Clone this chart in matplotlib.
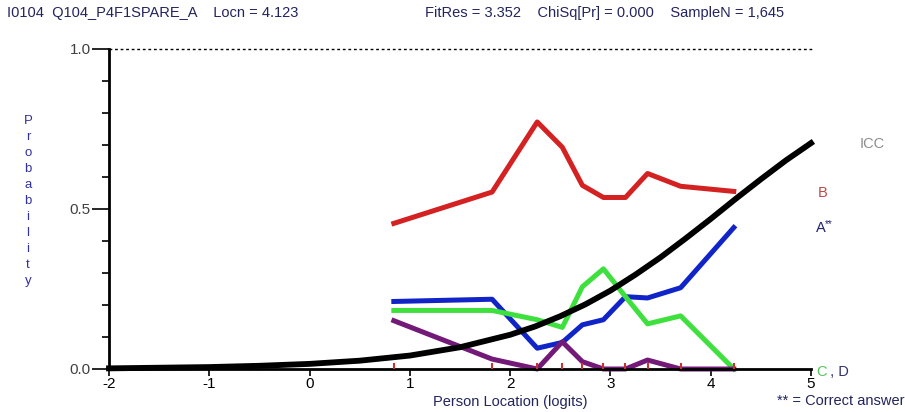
import matplotlib
matplotlib.use('Agg')
import matplotlib.pyplot as plt
from matplotlib import font_manager
from matplotlib.ticker import MultipleLocator, FixedLocator

names = {f.name for f in font_manager.fontManager.ttflist}
narrow = 'Liberation Sans Narrow' if 'Liberation Sans Narrow' in names else 'Liberation Sans'
plt.rcParams['font.family'] = [narrow, 'DejaVu Sans']

# class interval means (person location, logits)
class_locs = [0.84, 1.82, 2.27, 2.52, 2.72, 2.93, 3.15, 3.37, 3.70, 4.23]
# observed proportions choosing each distractor
prop_A = [0.211, 0.218, 0.065, 0.083, 0.138, 0.154, 0.226, 0.222, 0.254, 0.442]
prop_B = [0.455, 0.553, 0.772, 0.693, 0.574, 0.536, 0.536, 0.611, 0.571, 0.555]
prop_C = [0.183, 0.183, 0.154, 0.130, 0.257, 0.313, 0.226, 0.141, 0.166, 0.0]
prop_D = [0.151, 0.031, 0.0, 0.085, 0.023, 0.0, 0.0, 0.028, 0.0, 0.0]

# item characteristic curve
icc_x = [-2, -1.5, -1, -0.5, 0, 0.5, 1, 1.5, 2, 2.25, 2.5, 2.75, 3, 3.25, 3.5, 3.75, 4, 4.25, 4.5, 4.75, 5]
icc_p = [0.002, 0.004, 0.006, 0.010, 0.016, 0.026, 0.042, 0.068, 0.107, 0.133, 0.165, 0.202, 0.245,
         0.295, 0.349, 0.408, 0.469, 0.532, 0.593, 0.652, 0.706]

W, H = 905, 412
fig = plt.figure(figsize=(W / 100, H / 100), dpi=100)
ax = fig.add_axes([109 / W, 43 / H, 702 / W, 320 / H])
ax.set_xlim(-2, 5)
ax.set_ylim(0, 1)

lw = 3.6
ax.plot(class_locs, prop_B, color='#d42121', lw=lw, clip_on=False)
ax.plot(class_locs, prop_A, color='#1024c8', lw=lw, clip_on=False)
ax.plot(class_locs, prop_C, color='#3ee03e', lw=lw, clip_on=False)
ax.plot(class_locs, prop_D, color='#731a78', lw=lw, clip_on=False)
ax.plot(icc_x, icc_p, color='black', lw=4.2, clip_on=False, zorder=4)
ax.vlines(class_locs, 0, 0.018, color='#cc3030', lw=1.5, zorder=5)

# dotted line at 1.0
ax.plot([-2, 5.03], [1, 1], color='black', lw=1, ls=(0, (2, 2)), clip_on=False)

for s in ['top', 'right']:
    ax.spines[s].set_visible(False)
ax.spines['left'].set_linewidth(2)
ax.spines['bottom'].set_linewidth(2)

ax.yaxis.set_major_locator(FixedLocator([0, 0.5, 1.0]))
ax.set_yticklabels(['0.0', '0.5', '1.0'])
ax.yaxis.set_minor_locator(MultipleLocator(0.1))
ax.tick_params(axis='y', which='major', length=12, width=1.2, labelsize=11, labelcolor='#404040', pad=1)
ax.tick_params(axis='y', which='minor', length=5, width=1.2)

ax.set_xticks(range(-2, 6))
ax.set_xticklabels(['-2', '-1', '0', '1', '2', '3', '4', '5'])
ax.xaxis.set_minor_locator(FixedLocator([5]))
ax.tick_params(axis='x', which='major', length=5, width=1.2, labelsize=11, pad=1)
ax.tick_params(axis='x', which='minor', direction='in', length=5, width=1.2)

navy = '#22245e'
fig.text(7 / W, 1 - 13 / H, 'I0104  Q104_P4F1SPARE_A    Locn = 4.123', color=navy,
         fontsize=10.5, ha='left', va='center')
fig.text(425 / W, 1 - 13 / H, 'FitRes = 3.352    ChiSq[Pr] = 0.000    SampleN = 1,645', color=navy,
         fontsize=10.5, ha='left', va='center')

fig.text(28 / W, 1 - 201 / H, '\n'.join('Probability'), color='#3030a0', fontsize=9.5,
         ha='center', va='center', linespacing=1.45)

fig.text(510 / W, 1 - 402 / H, 'Person Location (logits)', color=navy, fontsize=10.5,
         ha='center', va='center')
fig.text(904 / W, 1 - 401 / H, '** = Correct answer', color=navy, fontsize=10.5,
         ha='right', va='center')

fig.text(860 / W, 1 - 144 / H, 'ICC', color='#8c8c8c', fontsize=10.5, ha='left', va='center')
fig.text(818 / W, 1 - 193 / H, 'B', color='#c04848', fontsize=10.5, ha='left', va='center')
fig.text(816 / W, 1 - 228 / H, 'A', color='#222270', fontsize=10.5, ha='left', va='center')
fig.text(825 / W, 1 - 224 / H, '**', color='#222270', fontsize=7, ha='left', va='center')
fig.text(816 / W, 1 - 372 / H, 'C', color='#55c455', fontsize=10.5, ha='left', va='center')
fig.text(826 / W, 1 - 372 / H, ' , D', color='#303070', fontsize=10.5, ha='left', va='center')

fig.savefig('out.png', dpi=100)
